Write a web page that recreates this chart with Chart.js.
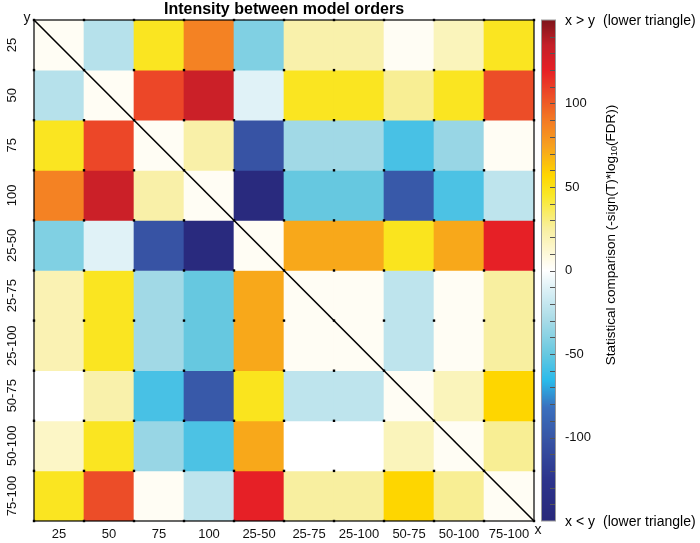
<!DOCTYPE html>
<html>
<head>
<meta charset="utf-8">
<title>Intensity between model orders</title>
<script src="https://cdn.jsdelivr.net/npm/chart.js@4.4.1/dist/chart.umd.min.js"></script>
<style>
  html, body { margin: 0; padding: 0; background: #fff; }
  #wrap { width: 700px; height: 543px; }
</style>
</head>
<body>
<div id="wrap"><canvas id="heatChart" width="700" height="543"></canvas></div>
<script>
// model orders, same list on both axes
const categories = ['25', '50', '75', '100', '25-50', '25-75', '25-100', '50-75', '50-100', '75-100'];

// one row per y category (top to bottom), values per x category
const row25    = [  3, -25,  47,   87,  -42,  22,  22,   3,  18,  47];
const row50    = [-25,   3, 107,  132,  -10,  47,  47,  27,  47, 105];
const row75    = [ 47, 107,   3,   23, -102, -32, -32, -58, -35,   3];
const row100   = [ 87, 132,  23,    3, -145, -50, -50, -98, -57, -22];
const row25_50 = [-42, -10, -102, -145,   3,  72,  72,  48,  72, 120];
const row25_75 = [ 20,  47, -32,  -50,   72,   3,   3, -22,   3,  25];
const row25_100= [ 20,  47, -32,  -50,   72,   3,   3, -22,   3,  25];
const row50_75 = [  0,  22, -58,  -98,   48, -22, -22,   3,  18,  57];
const row50_100= [ 15,  47, -35,  -57,   72,   0,   0,  18,   3,  27];
const row75_100= [ 47, 105,   3,  -22,  120,  25,  25,  57,  27,   3];

const matrixRows = [row25, row50, row75, row100, row25_50, row25_75, row25_100, row50_75, row50_100, row75_100];

const colorTicks = [-100, -50, 0, 50, 100];
const colorMin = -150;
const colorMax = 150;

// diverging colormap, blue - white - yellow - red
const cmap = [
  [-150, [40, 40, 122]],
  [-125, [45, 52, 140]],
  [-100, [56, 86, 166]],
  [-82,  [58, 112, 190]],
  [-66,  [42, 186, 234]],
  [-50,  [102, 200, 224]],
  [-30,  [168, 219, 231]],
  [-10,  [224, 242, 247]],
  [0,    [255, 255, 255]],
  [5,    [255, 252, 236]],
  [25,   [248, 239, 160]],
  [45,   [249, 232, 40]],
  [57,   [254, 214, 0]],
  [74,   [247, 162, 30]],
  [90,   [243, 122, 36]],
  [106,  [236, 74, 40]],
  [120,  [230, 32, 38]],
  [135,  [196, 32, 40]],
  [150,  [126, 20, 26]]
];

function colorFor(v) {
  if (v <= cmap[0][0]) return 'rgb(' + cmap[0][1].join(',') + ')';
  for (let i = 1; i < cmap.length; i++) {
    if (v <= cmap[i][0]) {
      const a = cmap[i - 1], b = cmap[i];
      const t = (v - a[0]) / (b[0] - a[0]);
      const c = a[1].map((ch, k) => Math.round(ch + (b[1][k] - ch) * t));
      return 'rgb(' + c.join(',') + ')';
    }
  }
  return 'rgb(' + cmap[cmap.length - 1][1].join(',') + ')';
}

const FONT = "'Liberation Sans', Arial, Helvetica, sans-serif";

// no extra room for first/last labels
function noPad(s) {
  s.paddingTop = 0; s.paddingBottom = 0; s.paddingLeft = 0; s.paddingRight = 0;
}

const overlay = {
  id: 'overlay',
  afterDatasetsDraw(chart) {
    const ctx = chart.ctx;
    const area = chart.chartArea;
    const xs = chart.scales.x;
    const ys = chart.scales.y;
    const half = (xs.getPixelForValue(1) - xs.getPixelForValue(0)) / 2;
    const colEdge = i => xs.getPixelForValue(i) - half;

    ctx.save();
    // box
    ctx.strokeStyle = '#000';
    ctx.lineWidth = 1.2;
    ctx.strokeRect(area.left, area.top, area.right - area.left, area.bottom - area.top);

    // diagonal
    ctx.lineWidth = 1.6;
    ctx.beginPath();
    ctx.moveTo(colEdge(0), ys.getPixelForValue(0));
    ctx.lineTo(colEdge(categories.length), ys.getPixelForValue(categories.length));
    ctx.stroke();

    // dots at grid crossings
    ctx.fillStyle = '#000';
    for (let i = 0; i <= categories.length; i++) {
      for (let j = 0; j <= categories.length; j++) {
        ctx.fillRect(colEdge(i) - 1.2, ys.getPixelForValue(j) - 1.2, 2.4, 2.4);
      }
    }

    // y labels, rotated
    ctx.font = '13px ' + FONT;
    ctx.textAlign = 'center';
    ctx.textBaseline = 'middle';
    ctx.fillStyle = '#111';
    categories.forEach((c, i) => {
      ctx.save();
      ctx.translate(12, ys.getPixelForValue(i + 0.5));
      ctx.rotate(-Math.PI / 2);
      ctx.fillText(c, 0, 0);
      ctx.restore();
    });

    // corner letters
    ctx.font = '14px ' + FONT;
    ctx.fillText('y', 27, 18);
    ctx.fillText('x', 538, 530);

    // title
    ctx.font = 'bold 16px ' + FONT;
    ctx.fillStyle = '#000';
    ctx.fillText('Intensity between model orders', (area.left + area.right) / 2, 10);

    // colorbar
    const cb = chart.scales.cb;
    const bx = 541, bw = 14;
    for (let py = Math.floor(cb.top); py < Math.ceil(cb.bottom); py++) {
      ctx.fillStyle = colorFor(cb.getValueForPixel(py + 0.5));
      ctx.fillRect(bx, py, bw, 1);
    }
    ctx.strokeStyle = '#999';
    ctx.lineWidth = 1;
    ctx.strokeRect(bx + 0.5, cb.top, bw, cb.bottom - cb.top);
    ctx.strokeStyle = '#555';
    for (let v = -140; v <= 140; v += 10) {
      const py = Math.round(cb.getPixelForValue(v)) + 0.5;
      ctx.beginPath();
      ctx.moveTo(bx + bw - 5, py);
      ctx.lineTo(bx + bw, py);
      ctx.stroke();
    }

    // colorbar end labels
    ctx.fillStyle = '#000';
    ctx.font = '14px ' + FONT;
    ctx.textAlign = 'left';
    ctx.fillText('x > y', 565, cb.top + 1);
    ctx.fillText('(lower triangle)', 603, cb.top + 1);
    ctx.fillText('x < y', 565, cb.bottom + 1);
    ctx.fillText('(lower triangle)', 603, cb.bottom + 1);

    // colorbar title, rotated, with subscript 10
    const big = '13.5px ' + FONT, small = '9px ' + FONT;
    const p1 = 'Statistical comparison (-sign(T)*log', p2 = '10', p3 = '(FDR))';
    ctx.font = big; const w1 = ctx.measureText(p1).width; const w3 = ctx.measureText(p3).width;
    ctx.font = small; const w2 = ctx.measureText(p2).width;
    const total = w1 + w2 + w3;
    ctx.save();
    ctx.translate(611, 235);
    ctx.rotate(-Math.PI / 2);
    ctx.textAlign = 'left';
    ctx.textBaseline = 'middle';
    let tx = -total / 2;
    ctx.font = big; ctx.fillText(p1, tx, 0); tx += w1;
    ctx.font = small; ctx.fillText(p2, tx, 4); tx += w2;
    ctx.font = big; ctx.fillText(p3, tx, 0);
    ctx.restore();

    ctx.restore();
  }
};

new Chart(document.getElementById('heatChart'), {
  type: 'bar',
  data: {
    labels: categories,
    datasets: matrixRows.map((row, r) => ({
      label: categories[r],
      data: row.map(() => [r, r + 1]),
      backgroundColor: row.map(v => colorFor(v)),
      borderWidth: 0,
      barPercentage: 1,
      categoryPercentage: 1,
      grouped: false
    }))
  },
  options: {
    responsive: false,
    animation: false,
    devicePixelRatio: 1,
    layout: { padding: { top: 20, left: 0, right: 0, bottom: 0 } },
    plugins: {
      legend: { display: false },
      title: { display: false },
      tooltip: { enabled: false }
    },
    scales: {
      x: {
        type: 'category',
        position: 'bottom',
        grid: { display: false, drawTicks: false },
        border: { display: false },
        ticks: { color: '#111', font: { family: FONT, size: 13 }, padding: 6, maxRotation: 0, autoSkip: false },
        afterFit: s => { s.height = 22; noPad(s); }
      },
      y: {
        type: 'linear',
        position: 'left',
        min: 0,
        max: 10,
        reverse: true,
        grid: { display: false, drawTicks: false },
        border: { display: false },
        ticks: { display: false },
        afterFit: s => { s.width = 34; noPad(s); }
      },
      cb: {
        type: 'linear',
        position: 'right',
        min: colorMin,
        max: colorMax,
        grid: { display: false, drawTicks: false },
        border: { display: false },
        ticks: { color: '#111', font: { family: FONT, size: 13 }, padding: 31 },
        afterBuildTicks: s => { s.ticks = colorTicks.map(v => ({ value: v })); },
        afterFit: s => { s.width = 166; noPad(s); }
      }
    }
  },
  plugins: [overlay]
});
</script>
</body>
</html>
